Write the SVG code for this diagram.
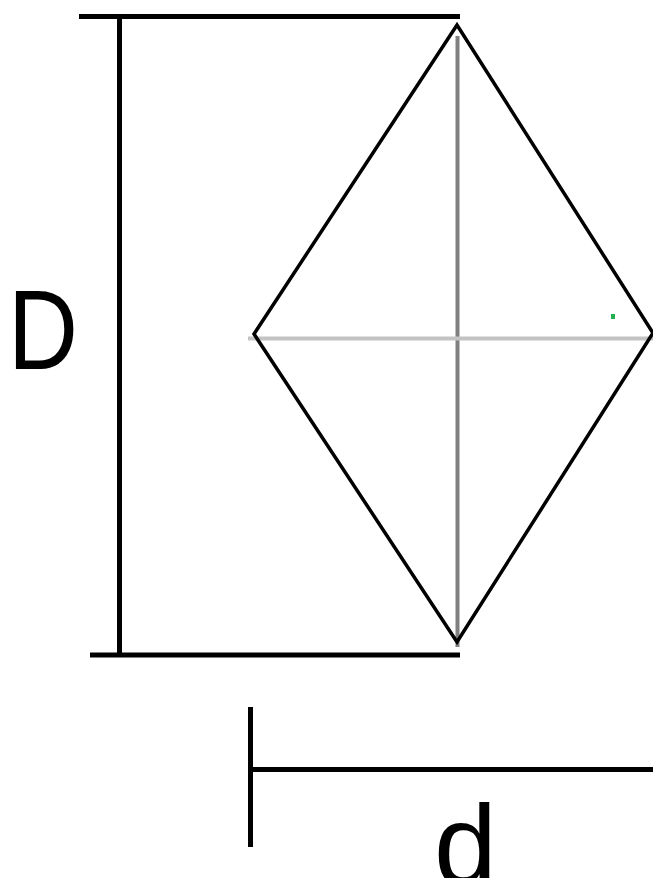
<svg xmlns="http://www.w3.org/2000/svg" width="653" height="878" viewBox="0 0 653 878">
<style>
.dim{stroke:#000;stroke-width:5;fill:none}
.lbl{font-family:"Liberation Sans",Arial,sans-serif;font-size:113px;fill:#000}
</style>
<rect width="653" height="878" fill="#fff"/>
<g id="diagonals">
<line x1="457.5" y1="36" x2="457.5" y2="647" stroke="#808080" stroke-width="4"/>
<line x1="248" y1="338.5" x2="653" y2="338.5" stroke="#c3c3c3" stroke-width="4"/>
</g>
<g id="rhombus">
<polygon points="457,25 254,334 457,642 653,333" fill="none" stroke="#000" stroke-width="3.5"/>
</g>
<rect x="611" y="314" width="4" height="5" fill="#22b14c"/>
<g id="connectors">
<line class="dim" x1="79" y1="16.5" x2="460" y2="16.5"/>
<line class="dim" x1="119.5" y1="19" x2="119.5" y2="653"/>
<line class="dim" x1="90" y1="655" x2="460" y2="655"/>
<line class="dim" x1="250.5" y1="707" x2="250.5" y2="847"/>
<line class="dim" x1="253" y1="769.5" x2="653" y2="769.5"/>
</g>
<g id="label-D"><text class="lbl" x="8" y="369" textLength="70" lengthAdjust="spacingAndGlyphs">D</text></g>
<g id="label-d"><text class="lbl" x="434" y="884">d</text></g>
</svg>
